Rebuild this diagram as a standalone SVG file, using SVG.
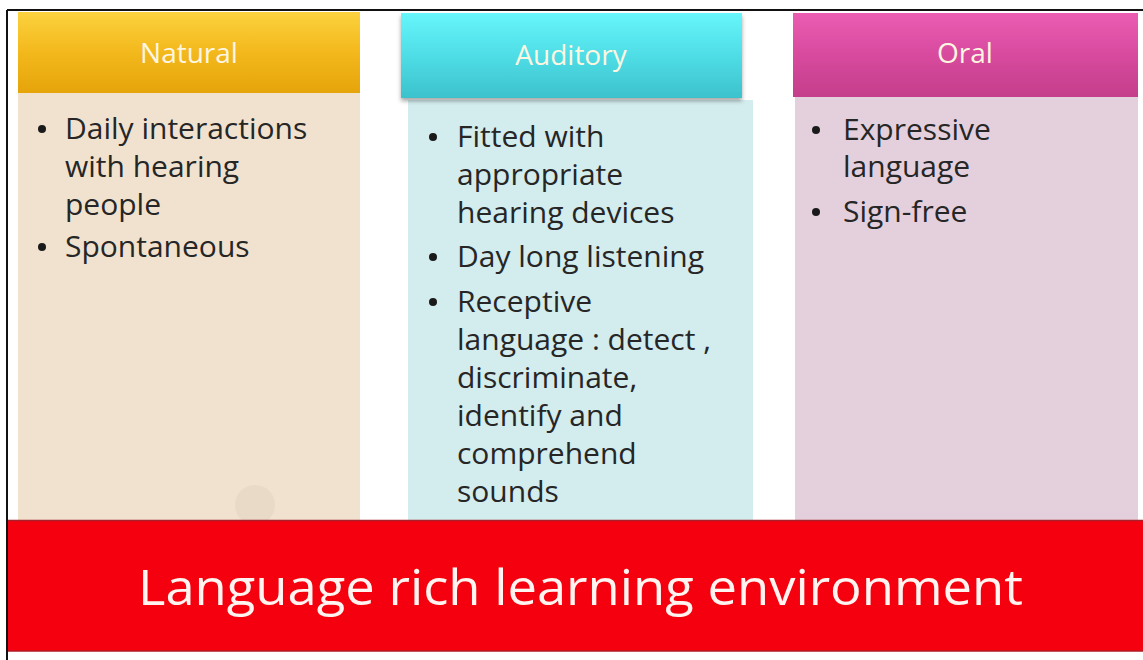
<svg xmlns="http://www.w3.org/2000/svg" width="1143" height="660" viewBox="0 0 1143 660">
  <style>
    .hdr { font-family: "Open Sans", "Liberation Sans", sans-serif; font-size: 28px; fill: #fdf6e0; text-anchor: middle; }
    .body { font-family: "Open Sans", "Liberation Sans", sans-serif; font-size: 30px; fill: #262626; }
    .dot { fill: #1a1a1a; }
    .banner { font-family: "Open Sans", "Liberation Sans", sans-serif; font-size: 50px; fill: #fff4f0; }
  </style>
  <defs>
    <linearGradient id="gGold" x1="0" y1="0" x2="0" y2="1">
      <stop offset="0" stop-color="#fbd23e"/>
      <stop offset="0.5" stop-color="#f3b81c"/>
      <stop offset="1" stop-color="#e5a40a"/>
    </linearGradient>
    <linearGradient id="gCyan" x1="0" y1="0" x2="0" y2="1">
      <stop offset="0" stop-color="#66f6fb"/>
      <stop offset="0.5" stop-color="#4fdde6"/>
      <stop offset="1" stop-color="#3cc2cc"/>
    </linearGradient>
    <linearGradient id="gPink" x1="0" y1="0" x2="0" y2="1">
      <stop offset="0" stop-color="#ea5db2"/>
      <stop offset="0.5" stop-color="#d84a9e"/>
      <stop offset="1" stop-color="#c43e8b"/>
    </linearGradient>
    <filter id="shadow" x="-5%" y="-10%" width="110%" height="130%">
      <feDropShadow dx="0" dy="3" stdDeviation="2" flood-color="#000" flood-opacity="0.35"/>
    </filter>
  </defs>

  <rect x="0" y="0" width="1143" height="660" fill="#ffffff"/>

  <g id="natural">
    <rect x="18" y="93" width="342" height="427" fill="#f1e2d0"/>
    <ellipse cx="255" cy="505" rx="20" ry="20" fill="#e4d4c1" opacity="0.6"/>
    <rect x="18" y="12" width="342" height="81" fill="url(#gGold)"/>
    <text class="hdr" x="189" y="63">Natural</text>
    <circle class="dot" cx="42" cy="129" r="4"/>
    <text class="body" x="65" y="139">Daily interactions</text>
    <text class="body" x="65" y="177">with hearing</text>
    <text class="body" x="65" y="215">people</text>
    <circle class="dot" cx="42" cy="247" r="4"/>
    <text class="body" x="65" y="257">Spontaneous</text>
  </g>

  <g id="auditory">
    <rect x="408" y="100" width="345" height="420" fill="#d3ecee"/>
    <rect x="401" y="13" width="341" height="85" fill="url(#gCyan)" filter="url(#shadow)"/>
    <text class="hdr" x="571" y="65">Auditory</text>
    <circle class="dot" cx="433" cy="137" r="4"/>
    <text class="body" x="457" y="147">Fitted with</text>
    <text class="body" x="457" y="185">appropriate</text>
    <text class="body" x="457" y="223">hearing devices</text>
    <circle class="dot" cx="433" cy="257" r="4"/>
    <text class="body" x="457" y="267">Day long listening</text>
    <circle class="dot" cx="433" cy="302" r="4"/>
    <text class="body" x="457" y="312">Receptive</text>
    <text class="body" x="457" y="350">language : detect ,</text>
    <text class="body" x="457" y="388">discriminate,</text>
    <text class="body" x="457" y="426">identify and</text>
    <text class="body" x="457" y="464">comprehend</text>
    <text class="body" x="457" y="502">sounds</text>
  </g>

  <g id="oral">
    <rect x="795" y="97" width="343" height="423" fill="#e4d0dc"/>
    <rect x="793" y="13" width="345" height="84" fill="url(#gPink)"/>
    <text class="hdr" x="965" y="63">Oral</text>
    <circle class="dot" cx="816" cy="130" r="4"/>
    <text class="body" x="843" y="140">Expressive</text>
    <text class="body" x="843" y="177">language</text>
    <circle class="dot" cx="816" cy="212" r="4"/>
    <text class="body" x="843" y="222">Sign-free</text>
  </g>

  <g id="banner">
    <rect x="8" y="520" width="1135" height="131" fill="#f5000f"/>
    <line x1="8" y1="520.5" x2="1143" y2="520.5" stroke="#a8202a" stroke-width="1.5"/>
    <line x1="8" y1="651" x2="1143" y2="651" stroke="#b01a24" stroke-width="1.5"/>
    <text class="banner" x="138" y="605" textLength="885" lengthAdjust="spacingAndGlyphs">Language rich learning environment</text>
  </g>

  <g id="connectors"></g>

  <g id="frame" stroke="#111" stroke-width="2" fill="none">
    <line x1="7" y1="10" x2="1143" y2="10"/>
    <line x1="7" y1="10" x2="7" y2="660"/>
  </g>
</svg>
